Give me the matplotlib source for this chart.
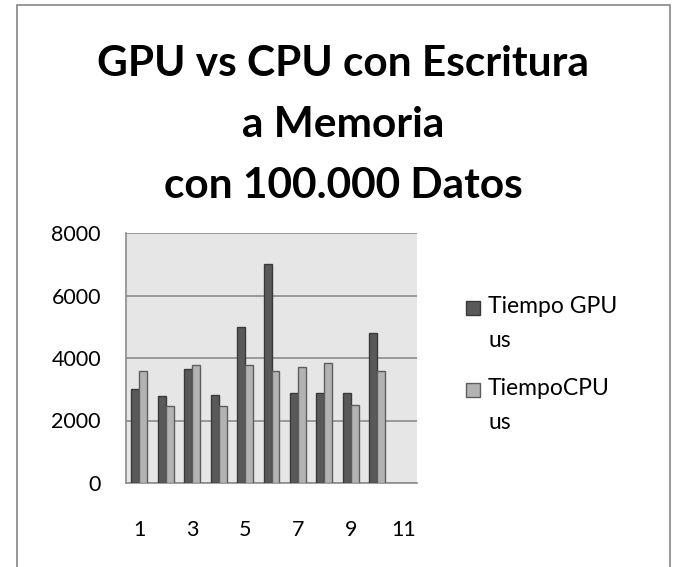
import matplotlib
matplotlib.use("Agg")
import matplotlib.pyplot as plt
from matplotlib.patches import Rectangle
import numpy as np

categories = [1, 2, 3, 4, 5, 6, 7, 8, 9, 10, 11]
gpu_us = [3020, 2790, 3660, 2815, 5000, 7020, 2890, 2890, 2870, 4790, None]
cpu_us = [3570, 2460, 3765, 2460, 3785, 3595, 3700, 3830, 2485, 3595, None]
series_labels = ["Tiempo GPU\nus", "TiempoCPU\nus"]
series_colors = ['#595959', '#b3b3b3']
series_edges = ['#3a3a3a', '#5e5e5e']
yticks = [0, 2000, 4000, 6000, 8000]
xticks = [1, 3, 5, 7, 9, 11]
title = "GPU vs CPU con Escritura\na Memoria\ncon 100.000 Datos"

plt.rcParams['font.family'] = ['Lato', 'DejaVu Sans']

fig = plt.figure(figsize=(6.8, 5.67), dpi=100)
fig.patch.set_facecolor('white')
fig.add_artist(Rectangle((17/680, -0.01), (670-17)/680, 1 - 5/567 + 0.01,
                         transform=fig.transFigure, fill=False,
                         edgecolor='#868686', linewidth=1.2))

ax = fig.add_axes([126/680, 1-483/567, (417-126)/680, (483-233)/567])
ax.set_facecolor('#e6e6e6')

x = np.array(categories, dtype=float)
g = np.array([v if v is not None else np.nan for v in gpu_us], dtype=float)
c = np.array([v if v is not None else np.nan for v in cpu_us], dtype=float)
w = 0.3
ax.bar(x - w/2, g, width=w, color=series_colors[0], edgecolor=series_edges[0], linewidth=1.0, zorder=3)
ax.bar(x + w/2, c, width=w, color=series_colors[1], edgecolor=series_edges[1], linewidth=1.0, zorder=3)

ax.set_xlim(0.5, 11.5)
ax.set_ylim(0, 8000)
ax.set_yticks(yticks)
ax.set_xticks(xticks)
ax.yaxis.grid(True, color='#8c8c8c', linewidth=1.2, zorder=1)
ax.set_axisbelow(True)
for s in ['top', 'right']:
    ax.spines[s].set_visible(False)
for s in ['left', 'bottom']:
    ax.spines[s].set_color('#8c8c8c')
    ax.spines[s].set_linewidth(1.2)
ax.tick_params(axis='y', length=0, pad=18, labelsize=15.5)
ax.tick_params(axis='x', length=0, pad=27, labelsize=15.5)

fig.text(343/680, 1-125/567, title, ha='center', va='center', fontsize=30.5,
         fontweight='bold', linespacing=1.75)

# legend (marker aligned with first text line, as in the reference)
leg_y = [308, 390]
for i, lab in enumerate(series_labels):
    yc = leg_y[i]
    fig.add_artist(Rectangle((466/680, 1-(yc+7)/567), 14/680, 14/567,
                             transform=fig.transFigure,
                             facecolor=series_colors[i], edgecolor=series_edges[i],
                             linewidth=1.0))
    fig.text(488/680, 1-(yc-12)/567, lab, ha='left', va='top', fontsize=16.5,
             linespacing=1.75)

fig.savefig('out.png', dpi=100)
